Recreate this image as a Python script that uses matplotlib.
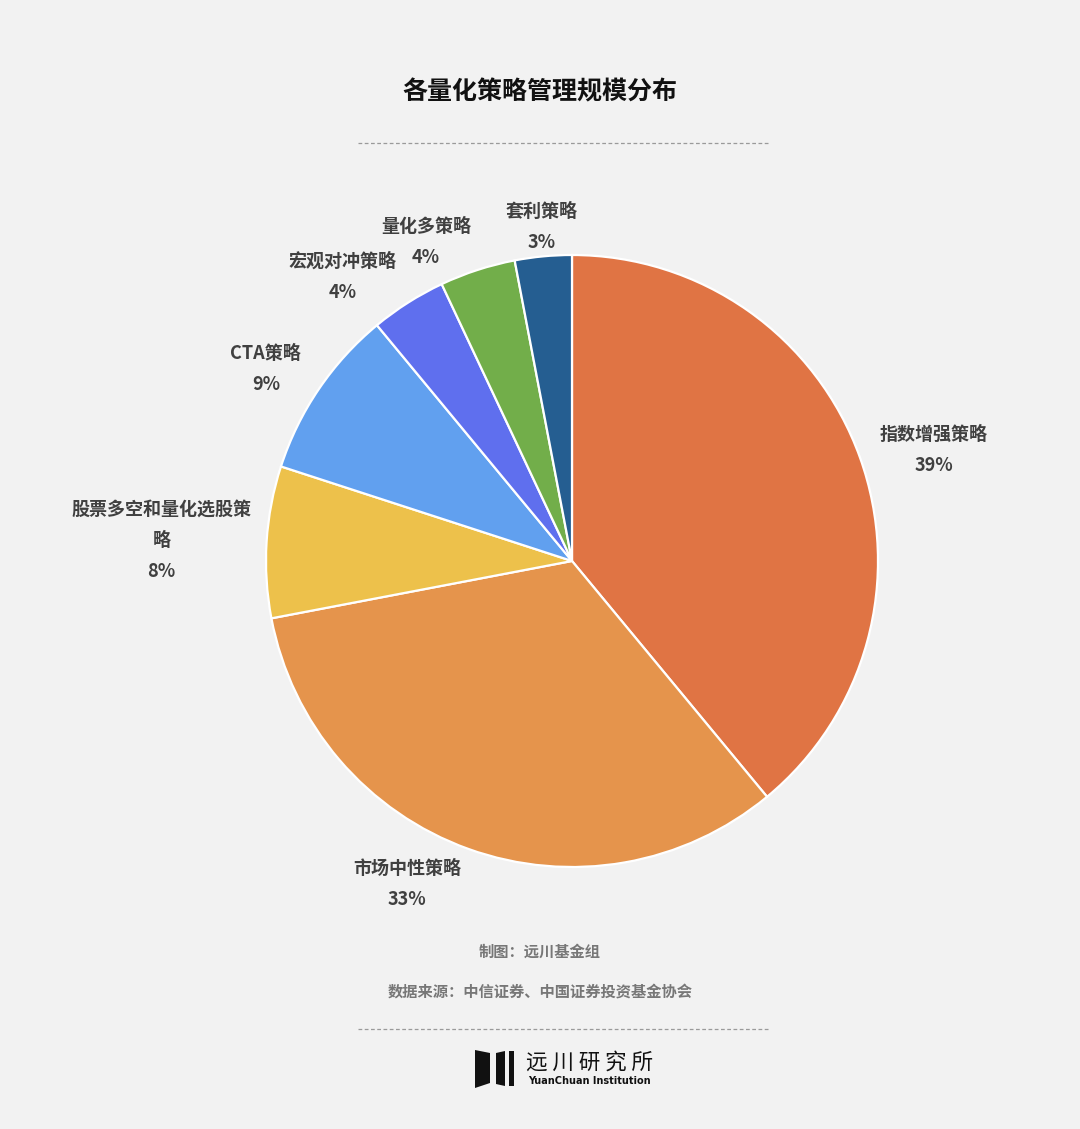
import numpy as np
import matplotlib
matplotlib.use('Agg')
import matplotlib.pyplot as plt
from matplotlib.patches import Polygon
from matplotlib.lines import Line2D

plt.rcParams['font.family'] = ['Noto Sans CJK SC', 'DejaVu Sans']

# data
labels = ['指数增强策略', '市场中性策略', '股票多空和量化选股策\n略', 'CTA策略',
          '宏观对冲策略', '量化多策略', '套利策略']
values = [39, 33, 8, 9, 4, 4, 3]
colors = ['#E07444', '#E5944C', '#EDC14B', '#61A0EF', '#5F6FEE', '#72AE4A', '#255E91']

bg = '#F2F2F2'
W, H = 1080, 1129
fig = plt.figure(figsize=(W / 100, H / 100), dpi=100, facecolor=bg)

# pie axes: centre (572, 561), radius 306 px
cx, cy, r = 572, 561, 306
ax = fig.add_axes([(cx - r) / W, (H - cy - r) / H, 2 * r / W, 2 * r / H])
ax.set_facecolor(bg)
wedges, _ = ax.pie(values, colors=colors, startangle=90, counterclock=False,
                   wedgeprops=dict(edgecolor='white', linewidth=1.6))
ax.set_xlim(-1, 1)
ax.set_ylim(-1, 1)
ax.set_aspect('equal')
ax.axis('off')

total = sum(values)
for w, lab, v in zip(wedges, labels, values):
    ang = np.deg2rad((w.theta1 + w.theta2) / 2)
    c, s = np.cos(ang), np.sin(ang)
    d = 1.07
    if abs(c) < 0.2:
        ha = 'center'
    elif c > 0:
        ha = 'left'
    else:
        ha = 'right'
    x = d * c
    y = d * s
    if s < -0.8:
        y -= 0.05
    elif s > 0.4:
        y += 0.025
    if abs(s) < 0.2:
        x += 0.02
    ax.text(x, y, f'{lab}\n{round(v / total * 100)}%', ha=ha, va='center',
            multialignment='center', fontsize=13, fontweight='bold',
            color='#404040', linespacing=1.8, clip_on=False)

# title and footer
fig.text(540 / W, 1 - 92 / H, '各量化策略管理规模分布', ha='center', va='center',
         fontsize=18, fontweight='heavy', color='#111111')
fig.text(540 / W, 1 - 952 / H, '制图：远川基金组', ha='center', va='center',
         fontsize=11, fontweight='bold', color='#777777')
fig.text(540 / W, 1 - 992 / H, '数据来源：中信证券、中国证券投资基金协会', ha='center', va='center',
         fontsize=11, fontweight='bold', color='#777777')

for yy in (143, 1029):
    fig.add_artist(Line2D([358 / W, 768 / W], [1 - yy / H, 1 - yy / H],
                          color='#9A9A9A', linewidth=0.9, linestyle=(0, (3, 2))))

# logo
def px(x, y):
    return (x / W, 1 - y / H)

for pts in ([(475, 1050), (490, 1053), (490, 1083), (475, 1088)],
            [(496, 1053), (505, 1051), (505, 1086), (496, 1084)],
            [(509, 1051), (514, 1051), (514, 1086), (509, 1086)]):
    fig.add_artist(Polygon([px(*p) for p in pts], closed=True,
                           facecolor='#111111', edgecolor='none'))
fig.text(526 / W, 1 - 1063 / H, '远 川 研 究 所', ha='left', va='center',
         fontsize=15.5, color='#111111')
fig.text(528 / W, 1 - 1081 / H, 'YuanChuan Institution', ha='left', va='center',
         fontsize=7, fontweight='bold', color='#111111', family=['DejaVu Sans'])

fig.savefig('out.png', dpi=100, facecolor=bg)
